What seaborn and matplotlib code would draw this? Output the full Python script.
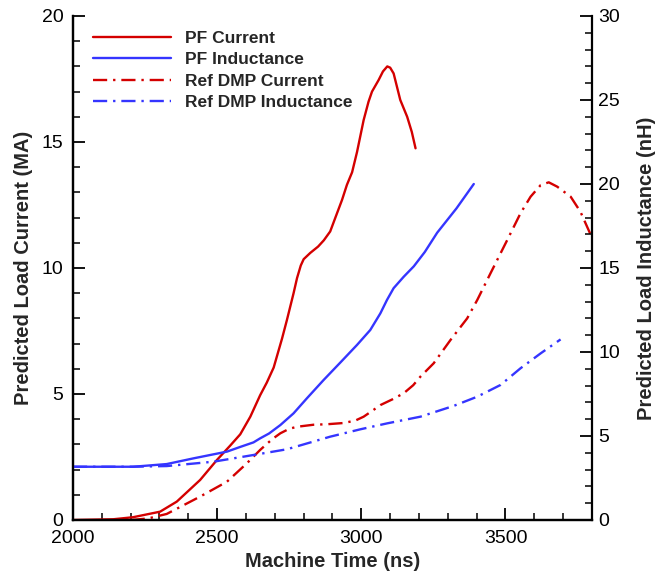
import numpy as np
import pandas as pd
import matplotlib
matplotlib.use("Agg")
import matplotlib.pyplot as plt
import seaborn as sns

# ---- data ----
pf_cur_t = [2000, 2140, 2208, 2302, 2360, 2441, 2499, 2545, 2580, 2615, 2649, 2672, 2696, 2725,
            2742, 2765, 2777, 2790, 2800, 2823, 2850, 2870, 2892, 2910, 2933, 2950, 2968, 2985,
            3008, 3025, 3037, 3060, 3075, 3090, 3100, 3112, 3135, 3159, 3175, 3188]
pf_cur_v = [0.0, 0.03, 0.11, 0.33, 0.73, 1.59, 2.38, 2.95, 3.40, 4.10, 4.95, 5.45, 6.05, 7.20,
            7.94, 9.00, 9.60, 10.10, 10.35, 10.60, 10.85, 11.10, 11.45, 12.00, 12.70, 13.30,
            13.80, 14.60, 15.87, 16.60, 17.00, 17.46, 17.80, 18.00, 17.95, 17.72, 16.67, 16.00,
            15.40, 14.75]

pf_ind_t = [2000, 2209, 2325, 2418, 2534, 2580, 2626, 2649, 2680, 2719, 2765, 2811, 2869, 2927,
            2985, 3031, 3066, 3089, 3112, 3147, 3182, 3220, 3263, 3330, 3390]
pf_ind_v = [3.17, 3.17, 3.33, 3.67, 4.07, 4.35, 4.62, 4.86, 5.15, 5.65, 6.35, 7.24, 8.33, 9.37,
            10.42, 11.31, 12.30, 13.10, 13.80, 14.48, 15.10, 15.95, 17.10, 18.55, 20.00]

dmp_cur_t = [2200, 2260, 2325, 2441, 2534, 2603, 2649, 2690, 2719, 2750, 2777, 2834, 2881, 2940,
             2980, 3008, 3040, 3066, 3110, 3147, 3180, 3205, 3251, 3309, 3367, 3402, 3448, 3506,
             3552, 3587, 3622, 3650, 3679, 3726, 3760, 3800]
dmp_cur_v = [0.0, 0.06, 0.24, 0.93, 1.52, 2.25, 2.78, 3.20, 3.44, 3.62, 3.70, 3.78, 3.80, 3.85,
             3.95, 4.10, 4.35, 4.56, 4.80, 5.03, 5.35, 5.69, 6.22, 7.14, 8.00, 8.73, 9.79, 11.11,
             12.17, 12.83, 13.29, 13.40, 13.23, 12.83, 12.23, 11.20]

dmp_ind_t = [2000, 2200, 2325, 2487, 2626, 2742, 2892, 2997, 3089, 3205, 3320, 3402, 3483, 3552,
             3622, 3691]
dmp_ind_v = [3.17, 3.17, 3.21, 3.47, 3.87, 4.21, 4.96, 5.40, 5.75, 6.15, 6.79, 7.34, 8.04, 9.03,
             9.92, 10.75]

labels = ["PF Current", "PF Inductance", "Ref DMP Current", "Ref DMP Inductance"]
RED = "#d40000"
BLUE = "#3535ff"

sns.set_style("ticks")
plt.rcParams["font.family"] = ["Liberation Sans", "DejaVu Sans"]
plt.rcParams.update({
    "xtick.direction": "in", "ytick.direction": "in",
    "xtick.major.size": 8.5, "ytick.major.size": 8.5,
    "xtick.minor.size": 5, "ytick.minor.size": 5,
    "xtick.major.width": 1.3, "ytick.major.width": 1.3,
    "xtick.minor.width": 1.1, "ytick.minor.width": 1.1,
    "xtick.color": "black", "ytick.color": "black",
    "xtick.minor.visible": True, "ytick.minor.visible": True,
})

fig = plt.figure(figsize=(6.55, 5.75), dpi=100)
ax = fig.add_axes([73 / 655, 1 - 520 / 575, (592 - 73) / 655, (520 - 16) / 575])
ax2 = ax.twinx()

df_pc = pd.DataFrame({"t": pf_cur_t, "v": pf_cur_v})
df_pi = pd.DataFrame({"t": pf_ind_t, "v": pf_ind_v})
df_dc = pd.DataFrame({"t": dmp_cur_t, "v": dmp_cur_v})
df_di = pd.DataFrame({"t": dmp_ind_t, "v": dmp_ind_v})

lw = 1.7
dd = (6, 2.5, 1, 2.5)
sns.lineplot(data=df_pc, x="t", y="v", ax=ax, color=RED, lw=lw, sort=False, estimator=None)
l1 = ax.lines[-1]
sns.lineplot(data=df_dc, x="t", y="v", ax=ax, color=RED, lw=lw, sort=False, estimator=None)
l3 = ax.lines[-1]
l3.set_dashes(dd)
sns.lineplot(data=df_pi, x="t", y="v", ax=ax2, color=BLUE, lw=lw, sort=False, estimator=None)
l2 = ax2.lines[-1]
sns.lineplot(data=df_di, x="t", y="v", ax=ax2, color=BLUE, lw=lw, sort=False, estimator=None)
l4 = ax2.lines[-1]
l4.set_dashes(dd)

ax.set_xlim(2000, 3800)
ax.set_ylim(0, 20)
ax2.set_ylim(0, 30)
ax.set_xticks([2000, 2500, 3000, 3500])
ax.set_xticks(np.arange(2000, 3801, 100), minor=True)
ax.set_yticks([0, 5, 10, 15, 20])
ax.set_yticks(np.arange(0, 21, 1), minor=True)
ax2.set_yticks([0, 5, 10, 15, 20, 25, 30])
ax2.set_yticks(np.arange(0, 31, 1), minor=True)

for a in (ax, ax2):
    a.spines["top"].set_visible(False)
    for s in a.spines.values():
        s.set_linewidth(1.6)
        s.set_color("black")

ax.spines["right"].set_visible(False)
ax.tick_params(axis="both", which="both", direction="in", colors="black",
               top=False, right=False)
ax.tick_params(axis="both", which="major", length=8.5, width=1.3, labelsize=14)
ax.tick_params(axis="both", which="minor", length=5, width=1.1)
ax.tick_params(axis="y", which="major", pad=7)
ax.tick_params(axis="x", which="major", pad=7.5)
ax2.tick_params(axis="y", which="both", direction="in", colors="black", left=False, right=True)
ax2.tick_params(axis="y", which="major", length=8.5, width=1.3, labelsize=14, pad=4.5)
ax2.tick_params(axis="y", which="minor", length=5, width=1.1)

ax.set_xlabel("Machine Time (ns)", fontsize=14.5, fontweight="bold", labelpad=3)
ax.set_ylabel("Predicted Load Current (MA)", fontsize=14.5, fontweight="bold", labelpad=6)
ax2.set_ylabel("Predicted Load Inductance (nH)", fontsize=14.5, fontweight="bold", labelpad=12)

leg = ax2.legend([l1, l2, l3, l4], labels, loc="upper left",
                 bbox_to_anchor=(93 / 655, 1 - 31 / 575), bbox_transform=fig.transFigure,
                 frameon=False, borderpad=0, borderaxespad=0, handlelength=4.5,
                 handletextpad=0.8, labelspacing=0.35,
                 prop={"weight": "bold", "size": 12.5})

fig.savefig("out.png", dpi=100)
